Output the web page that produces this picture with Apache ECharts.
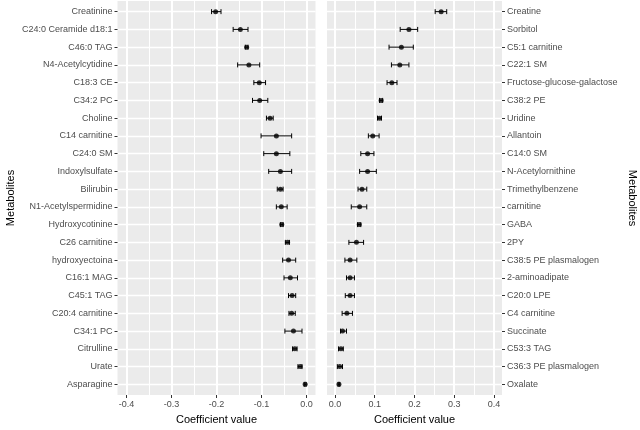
<!DOCTYPE html>
<html>
<head>
<meta charset="utf-8">
<script src="https://cdn.jsdelivr.net/npm/echarts@6/dist/echarts.min.js"></script>
<style>
  html, body { margin: 0; padding: 0; background: #fff; }
  #chart { width: 640px; height: 430px; }
</style>
</head>
<body>
<div id="chart"></div>
<script>
// negative coefficients (left panel), top to bottom
const leftNames = ['Creatinine', 'C24:0 Ceramide d18:1', 'C46:0 TAG', 'N4-Acetylcytidine', 'C18:3 CE',
  'C34:2 PC', 'Choline', 'C14 carnitine', 'C24:0 SM', 'Indoxylsulfate', 'Bilirubin',
  'N1-Acetylspermidine', 'Hydroxycotinine', 'C26 carnitine', 'hydroxyectoina', 'C16:1 MAG',
  'C45:1 TAG', 'C20:4 carnitine', 'C34:1 PC', 'Citrulline', 'Urate', 'Asparagine']
const leftCoef = [-0.202, -0.147, -0.133, -0.128, -0.105, -0.104, -0.081, -0.067, -0.067, -0.058, -0.058,
  -0.056, -0.055, -0.042, -0.040, -0.036, -0.032, -0.033, -0.029, -0.026, -0.014, -0.003]
const leftLower = [-0.211, -0.163, -0.136, -0.153, -0.117, -0.120, -0.089, -0.101, -0.095, -0.084, -0.065,
  -0.067, -0.058, -0.047, -0.053, -0.050, -0.040, -0.039, -0.048, -0.031, -0.019, -0.005]
const leftUpper = [-0.190, -0.130, -0.130, -0.104, -0.091, -0.086, -0.074, -0.033, -0.037, -0.033, -0.052,
  -0.043, -0.052, -0.038, -0.024, -0.020, -0.024, -0.025, -0.010, -0.021, -0.010, -0.001]

// positive coefficients (right panel), top to bottom
const rightNames = ['Creatine', 'Sorbitol', 'C5:1 carnitine', 'C22:1 SM', 'Fructose-glucose-galactose',
  'C38:2 PE', 'Uridine', 'Allantoin', 'C14:0 SM', 'N-Acetylornithine', 'Trimethylbenzene',
  'carnitine', 'GABA', '2PY', 'C38:5 PE plasmalogen', '2-aminoadipate', 'C20:0 LPE',
  'C4 carnitine', 'Succinate', 'C53:3 TAG', 'C36:3 PE plasmalogen', 'Oxalate']
const rightCoef = [0.267, 0.186, 0.167, 0.163, 0.143, 0.116, 0.112, 0.095, 0.082, 0.082, 0.068,
  0.062, 0.061, 0.054, 0.038, 0.038, 0.038, 0.030, 0.019, 0.015, 0.012, 0.010]
const rightLower = [0.252, 0.164, 0.136, 0.142, 0.131, 0.112, 0.107, 0.084, 0.065, 0.062, 0.058,
  0.041, 0.057, 0.035, 0.025, 0.029, 0.026, 0.018, 0.014, 0.009, 0.006, 0.008]
const rightUpper = [0.281, 0.208, 0.197, 0.186, 0.156, 0.120, 0.117, 0.111, 0.098, 0.104, 0.080,
  0.080, 0.065, 0.072, 0.055, 0.049, 0.049, 0.044, 0.029, 0.021, 0.019, 0.012]

// axis breaks
const leftBreaks = [-0.4, -0.3, -0.2, -0.1, 0.0]
const leftMinor = [-0.35, -0.25, -0.15, -0.05]
const rightBreaks = [0.0, 0.1, 0.2, 0.3, 0.4]
const rightMinor = [0.05, 0.15, 0.25, 0.35]

// row positions 1..22 (discrete scale, 0.6 padding each end)
const rows = leftNames.map((_, i) => i + 1)
const yMin = 0.4
const yMax = 22.6

const chart = echarts.init(document.getElementById('chart'))

// vertical white panel grid lines, snapped to whole pixels so they stay crisp
function gridLines(idx, values, width) {
  return {
    type: 'custom',
    xAxisIndex: idx,
    yAxisIndex: idx,
    z: 2,
    data: values.map(v => [v, 10]),
    encode: { x: 0, y: 1 },
    renderItem: (params, api) => {
      const a = api.coord([api.value(0), yMin])
      const b = api.coord([api.value(0), yMax])
      const x = Math.round(a[0]) + (width % 2 ? 0.5 : 0)
      return {
        type: 'line',
        shape: { x1: x, y1: a[1], x2: x, y2: b[1] },
        style: { stroke: '#ffffff', lineWidth: width }
      }
    }
  }
}

function errorBars(idx, lower, upper) {
  return {
    type: 'custom',
    xAxisIndex: idx,
    yAxisIndex: idx,
    z: 3,
    data: rows.map((r, i) => [lower[i], upper[i], r]),
    encode: { x: [0, 1], y: 2 },
    renderItem: (params, api) => {
      const r = api.value(2)
      const p1 = api.coord([api.value(0), r])
      const p2 = api.coord([api.value(1), r])
      const h = Math.abs(api.coord([api.value(0), r + 0.14])[1] - p1[1])
      const st = { stroke: '#000', lineWidth: 1 }
      return {
        type: 'group',
        children: [
          { type: 'line', shape: { x1: p1[0], y1: p1[1], x2: p2[0], y2: p2[1] }, style: st },
          { type: 'line', shape: { x1: p1[0], y1: p1[1] - h, x2: p1[0], y2: p1[1] + h }, style: st },
          { type: 'line', shape: { x1: p2[0], y1: p2[1] - h, x2: p2[0], y2: p2[1] + h }, style: st }
        ]
      }
    }
  }
}

function xAxisFor(idx, min, max, breaks) {
  return {
    gridIndex: idx,
    type: 'value',
    min: min,
    max: max,
    axisLine: { show: true, lineStyle: { color: 'rgba(0,0,0,0)' } },
    axisTick: { show: true, customValues: breaks, length: 3, lineStyle: { color: '#333' } },
    axisLabel: { customValues: breaks, formatter: v => v.toFixed(1), color: '#4D4D4D', fontSize: 9, margin: 5 },
    splitLine: { show: false },
    name: 'Coefficient value',
    nameLocation: 'middle',
    nameGap: 19,
    nameTextStyle: { color: '#000', fontSize: 11 }
  }
}

function yAxisFor(idx, names, pos, rot, gap) {
  return {
    gridIndex: idx,
    type: 'value',
    position: pos,
    inverse: true,
    min: yMin,
    max: yMax,
    axisLine: { show: false, onZero: false },
    axisTick: { show: true, customValues: rows, length: 3, lineStyle: { color: '#333' } },
    axisLabel: { customValues: rows, formatter: v => names[Math.round(v) - 1], color: '#4D4D4D', fontSize: 9, margin: 5 },
    splitLine: { show: true, lineStyle: { color: '#ffffff', width: 1.4 } },
    name: 'Metabolites',
    nameLocation: 'middle',
    nameRotate: rot,
    nameGap: gap,
    nameTextStyle: { color: '#000', fontSize: 11 }
  }
}

chart.setOption({
  animation: false,
  textStyle: { fontFamily: 'Liberation Sans' },
  grid: [
    { left: 117.5, top: 1, width: 198, height: 398, show: true, backgroundColor: '#EBEBEB', borderWidth: 0 },
    { left: 327, top: 1, width: 175, height: 398, show: true, backgroundColor: '#EBEBEB', borderWidth: 0 }
  ],
  xAxis: [
    xAxisFor(0, -0.42, 0.02, leftBreaks),
    xAxisFor(1, -0.02, 0.42, rightBreaks)
  ],
  yAxis: [
    yAxisFor(0, leftNames, 'left', 90, 101),
    yAxisFor(1, rightNames, 'right', -90, 125)
  ],
  series: [
    gridLines(0, leftMinor, 1),
    gridLines(0, leftBreaks, 2),
    gridLines(1, rightMinor, 1),
    gridLines(1, rightBreaks, 2),
    errorBars(0, leftLower, leftUpper),
    errorBars(1, rightLower, rightUpper),
    {
      type: 'scatter', xAxisIndex: 0, yAxisIndex: 0, z: 4, symbolSize: 5,
      itemStyle: { color: '#000' },
      data: rows.map((r, i) => [leftCoef[i], r])
    },
    {
      type: 'scatter', xAxisIndex: 1, yAxisIndex: 1, z: 4, symbolSize: 5,
      itemStyle: { color: '#000' },
      data: rows.map((r, i) => [rightCoef[i], r])
    }
  ]
})
</script>
</body>
</html>
